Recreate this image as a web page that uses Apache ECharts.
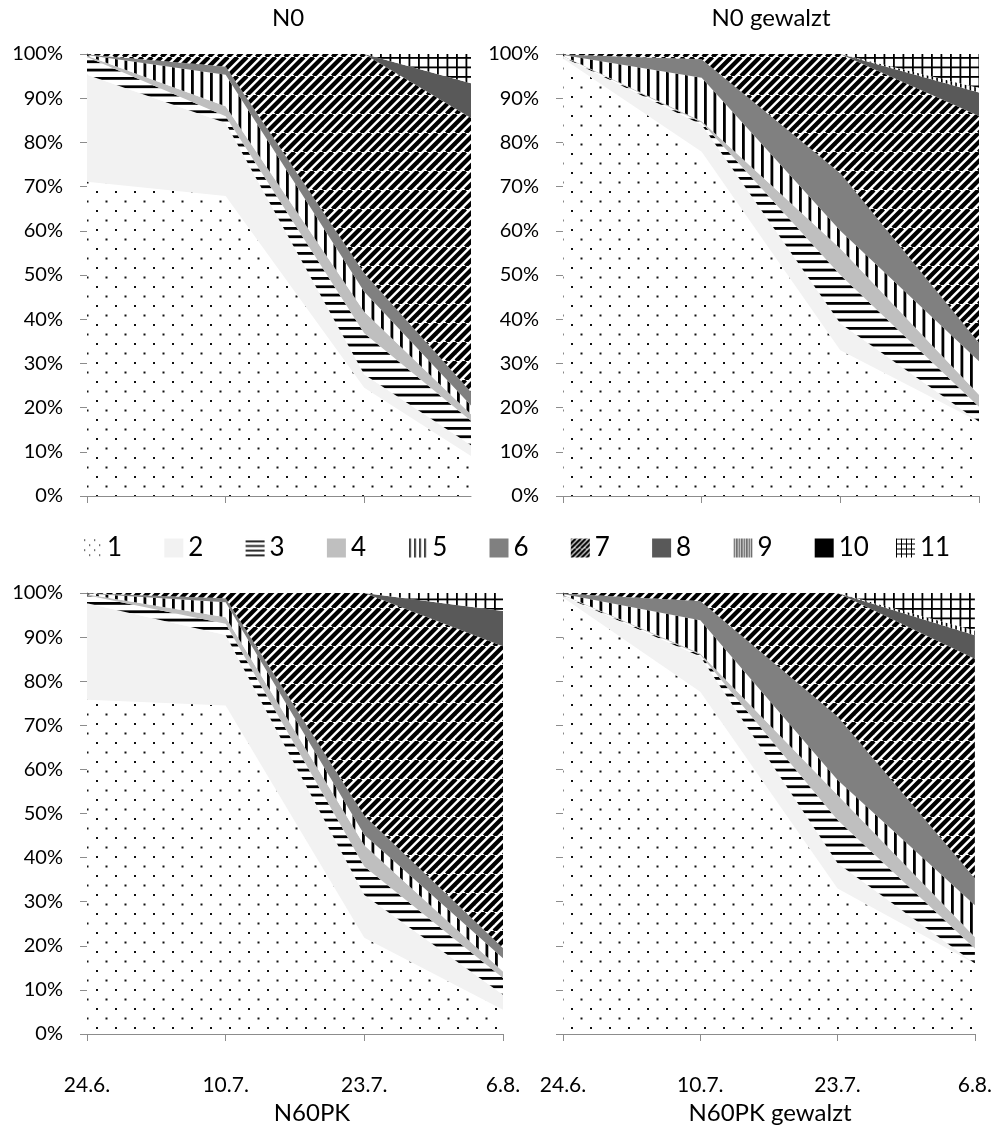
<!DOCTYPE html>
<html><head><meta charset="utf-8">
<script src="https://cdn.jsdelivr.net/npm/echarts@6/dist/echarts.min.js"></script>
<style>html,body{margin:0;padding:0;background:#fff}#c{width:995px;height:1142px}</style>
</head><body><div id="c"></div>
<script>
// ---------------- DATA ----------------
const categories = ['24.6.', '10.7.', '23.7.', '6.8.'];
const seriesNames = ['1', '2', '3', '4', '5', '6', '7', '8', '9', '10', '11'];
const yTickValues = [0, 10, 20, 30, 40, 50, 60, 70, 80, 90, 100];
const panelTitles = ['N0', 'N0 gewalzt', 'N60PK', 'N60PK gewalzt'];

// share (%) of each class 1..11 at the four dates
const valuesN0 = [
  [71.1, 67.9, 24.5, 4.4],
  [24.2, 16.5, 3.0, 2.3],
  [4.0, 1.5, 9.3, 4.4],
  [0.3, 2.3, 4.9, 0.5],
  [0.2, 7.1, 4.5, 1.2],
  [0.1, 1.9, 4.2, 2.7],
  [0.1, 2.8, 49.6, 65.7],
  [0, 0, 0, 10.2],
  [0, 0, 0, 0],
  [0, 0, 0, 0],
  [0, 0, 0, 8.6]
];
const valuesN0gewalzt = [
  [99.0, 77.9, 33.0, 16.4],
  [0.3, 6.1, 6.0, 0.4],
  [0.2, 0.5, 11.0, 3.4],
  [0.1, 0.3, 6.0, 2.7],
  [0.2, 9.8, 4.0, 7.6],
  [0.1, 4.2, 13.0, 4.1],
  [0.1, 1.2, 27.0, 51.4],
  [0, 0, 0, 5.3],
  [0, 0, 0, 1.0],
  [0, 0, 0, 0],
  [0, 0, 0, 7.7]
];
const valuesN60PK = [
  [75.8, 74.5, 21.8, 5.5],
  [21.9, 16.0, 9.7, 3.4],
  [1.8, 2.5, 6.5, 3.8],
  [0.2, 1.5, 4.8, 1.5],
  [0.2, 3.4, 2.4, 3.0],
  [0.05, 0.9, 4.3, 2.3],
  [0.05, 1.2, 50.5, 68.4],
  [0, 0, 0, 8.0],
  [0, 0, 0, 0],
  [0, 0, 0, 0],
  [0, 0, 0, 4.1]
];
const valuesN60PKgewalzt = [
  [99.0, 77.6, 33.0, 15.6],
  [0.3, 8.0, 5.7, 0.4],
  [0.2, 0.4, 9.8, 3.4],
  [0.1, 0.3, 5.7, 2.6],
  [0.2, 7.5, 3.4, 7.2],
  [0.1, 4.4, 14.4, 6.1],
  [0.1, 1.8, 28.0, 49.8],
  [0, 0, 0, 5.3],
  [0, 0, 0, 1.1],
  [0, 0, 0, 0],
  [0, 0, 0, 8.5]
];

// ---------------- PATTERNS ----------------
function tile(w, h, draw) {
  const c = document.createElement('canvas');
  c.width = w; c.height = h;
  const ctx = c.getContext('2d');
  ctx.fillStyle = '#fff'; ctx.fillRect(0, 0, w, h);
  draw(ctx, w, h);
  return { image: c, repeat: 'repeat' };
}
function makeFills(k) {
  // k: scale factor of the hatch patterns
  const T = Math.round(19 * k), h = T / 2;
  const dots = tile(T, T, (ctx) => {
    const d = Math.max(1.2, 2 * k);
    ctx.fillStyle = '#111';
    ctx.fillRect(1, 1, d, d); ctx.fillRect(1 + h, 1 + h, d, d);
  });
  const HT = Math.round(25 * k);
  const horiz = tile(4, HT, (ctx) => {
    ctx.fillStyle = '#000';
    for (let j = 0; j < 3; j++) ctx.fillRect(0, 2 + j * HT / 3, 4, 2.8 * Math.max(k, 0.6));
  });
  const vert = tile(T, T, (ctx) => {
    ctx.fillStyle = '#000';
    ctx.fillRect(1, 0, 2.8 * k, T); ctx.fillRect(1 + h, 0, 2.8 * k, T);
  });
  const diag = tile(T, T, (ctx) => {
    ctx.strokeStyle = '#000'; ctx.lineWidth = 4.2 * k;
    for (let a = -3 * h; a <= 3 * h; a += h) {
      ctx.beginPath(); ctx.moveTo(a, T); ctx.lineTo(a + T, 0); ctx.stroke();
    }
  });
  const dense = tile(T, T, (ctx) => {
    ctx.fillStyle = '#000';
    for (let x = 0.5; x < T; x += T / 4) ctx.fillRect(x, 0, Math.max(1, 1.6 * k), T);
  });
  const gridP = tile(T, T, (ctx) => {
    ctx.fillStyle = '#000';
    const w = Math.max(1, 1.8 * k);
    ctx.fillRect(0, 0, T, w); ctx.fillRect(0, h, T, w);
    ctx.fillRect(0, 0, w, T); ctx.fillRect(h, 0, w, T);
  });
  return [dots, '#f2f2f2', horiz, '#bfbfbf', vert, '#808080', diag, '#595959', dense, '#000000', gridP];
}
const fills = makeFills(1);
const legendFills = makeFills(0.55);

// ---------------- LAYOUT ----------------
const FONT = 'Lato, "Open Sans", "Noto Sans", sans-serif';
const AXIS_COLOR = '#8c8c8c';
// the N0 panel is cut off on the right, before its last date
const panels = [
  { values: valuesN0, left: 87, top: 54, width: 384, height: 442, cut: 2.77, showX: false, showY: true },
  { values: valuesN0gewalzt, left: 563, top: 54, width: 416, height: 442, cut: null, showX: false, showY: true },
  { values: valuesN60PK, left: 87, top: 593, width: 416, height: 441, cut: null, showX: true, showY: true },
  { values: valuesN60PKgewalzt, left: 563, top: 593, width: 416, height: 441, cut: null, showX: true, showY: false }
];
const titlePos = [[288, 18], [771, 18], [312, 1113], [770, 1113]];

const grid = [], xAxis = [], yAxis = [], series = [];
panels.forEach((p, pi) => {
  grid.push({ left: p.left, top: p.top, width: p.width, height: p.height, containLabel: false });
  const axisLine = { show: true, onZero: false, lineStyle: { color: AXIS_COLOR, width: 1 } };
  if (p.cut != null) {
    // positions are the date indices 0..3 (equal spacing); a 'time' typed axis keeps them out of the stack
    const idx = categories.map((c, i) => i).filter((i) => i <= p.cut);
    xAxis.push({
      type: 'time', gridIndex: pi, min: 0, max: p.cut, axisLine,
      axisTick: { show: true, length: 7, customValues: idx, lineStyle: { color: AXIS_COLOR } },
      axisLabel: { show: p.showX, customValues: idx, formatter: (v) => categories[v], margin: 41, fontFamily: FONT, fontSize: 21, color: '#000' },
      splitLine: { show: false }
    });
  } else {
    xAxis.push({
      type: 'category', gridIndex: pi, data: categories, boundaryGap: false, axisLine,
      axisTick: { show: true, length: 7, interval: 0, lineStyle: { color: AXIS_COLOR } },
      axisLabel: { show: p.showX, interval: 0, margin: 41, fontFamily: FONT, fontSize: 21, color: '#000' },
      splitLine: { show: false }
    });
  }
  yAxis.push({
    type: 'value', gridIndex: pi, min: 0, max: 100, interval: 10,
    axisLine: { show: true, lineStyle: { color: AXIS_COLOR, width: 1 } },
    axisTick: { show: true, length: 7, inside: false, lineStyle: { color: AXIS_COLOR } },
    axisLabel: { show: p.showY, formatter: '{value}%', margin: 24, fontFamily: FONT, fontSize: 20, color: '#000' },
    splitLine: { show: false }
  });
  seriesNames.forEach((name, si) => {
    series.push({
      type: 'line', name: name, stack: 'panel' + pi, xAxisIndex: pi, yAxisIndex: pi,
      data: p.cut != null ? p.values[si].map((v, i) => [i, v]) : p.values[si],
      showSymbol: false, symbol: 'none', silent: true, clip: true,
      lineStyle: { width: 0, opacity: 0 },
      areaStyle: { color: fills[si], opacity: 1 },
      emphasis: { disabled: true }
    });
  });
});

const legend = seriesNames.map((name, i) => ({
  left: 83 + i * 81.3, top: 535, padding: 0, itemWidth: 19, itemHeight: 19, selectedMode: false,
  textStyle: { fontFamily: FONT, fontSize: 26, color: '#000' },
  data: [{ name: name, icon: 'rect', itemStyle: { color: legendFills[i], borderWidth: 0 } }]
}));

const graphic = panelTitles.map((t, i) => ({
  type: 'text', x: titlePos[i][0], y: titlePos[i][1], silent: true,
  style: { text: t, fontFamily: FONT, fontSize: 24, fill: '#000', align: 'center', verticalAlign: 'middle' }
}));

const chart = echarts.init(document.getElementById('c'), null, { renderer: 'canvas' });
chart.setOption({
  animation: false,
  backgroundColor: '#fff',
  grid, xAxis, yAxis, series, legend, graphic
});
</script>
</body></html>
